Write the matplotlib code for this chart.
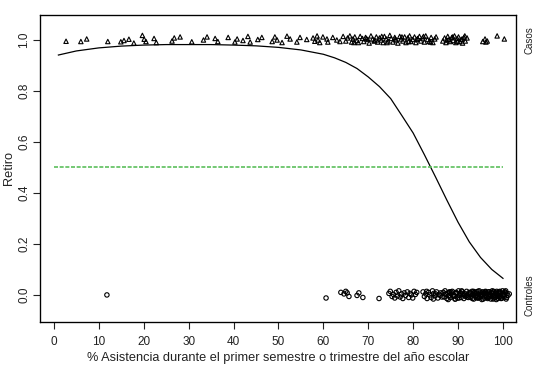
import matplotlib
matplotlib.use("Agg")
import matplotlib.pyplot as plt

# ---------------- data ----------------
curve_x = [1, 5, 10, 15, 20, 25, 30, 35, 40, 45, 50, 55, 60, 62.5, 65, 67.5, 70, 72.5,
           75, 77.5, 80, 82.5, 85, 87.5, 90, 92.5, 95, 97.5, 100]
curve_y = [0.941, 0.957, 0.969, 0.976, 0.980, 0.982, 0.982, 0.982, 0.980, 0.977, 0.971,
           0.961, 0.944, 0.930, 0.912, 0.888, 0.855, 0.817, 0.770, 0.703, 0.635, 0.550,
           0.462, 0.372, 0.285, 0.208, 0.147, 0.100, 0.065]

cases_x = [2.7, 6.0, 7.3, 12.0, 14.9, 15.6, 16.7, 17.8, 19.7, 20.1, 20.5, 22.3, 22.8, 26.3, 26.8,
           28.1, 30.7, 33.3, 34.1, 35.9, 36.5, 38.8, 40.3, 40.8, 42.1, 43.2, 43.7, 45.4, 46.3,
           48.6, 49.2, 49.7, 50.8, 51.9, 52.6, 54.1, 54.8, 56.3, 57.7, 58.1, 58.6, 58.8, 59.2,
           59.9, 60.8, 61.0, 62.1, 63.0, 63.7, 64.4,
           65.0, 65.4, 65.9, 66.3, 66.6, 67.0, 67.5, 67.8, 68.2, 68.7, 69.0, 69.4, 69.9, 70.2,
           70.6, 71.0, 71.3, 71.8, 72.1, 72.5, 72.9, 73.3, 73.6, 74.0, 74.4, 74.8, 75.1, 75.5,
           75.9, 76.2, 76.6, 77.0, 77.3, 77.7, 78.1, 78.4, 78.8, 79.2, 79.5, 79.9, 80.3, 80.6,
           81.0, 81.4, 81.7, 82.1, 82.5, 82.8, 83.2, 83.6, 84.0, 84.4, 84.8, 85.1, 86.6, 87.0,
           87.3, 87.7, 88.0, 88.3, 88.6, 88.9, 89.2, 89.5, 89.8, 90.1, 90.4, 90.7, 91.0, 91.3,
           91.6, 92.0, 95.5, 96.0, 96.5, 98.7, 100.3,
           66.8, 69.6, 71.5, 73.0, 74.2, 76.0, 77.5, 79.0, 80.8, 82.3, 83.9, 87.5, 88.8, 89.9,
           90.9, 91.5, 96.2]
cases_y = [0.995, 0.994, 1.004, 0.994, 0.993, 0.998, 1.003, 0.988, 1.018, 1.003, 0.994, 1.006,
           0.990, 0.996, 1.008, 1.012, 0.993, 1.000, 1.012, 1.006, 0.994, 1.010, 0.992, 1.004,
           0.998, 1.014, 0.992, 1.002, 1.010, 0.994, 1.012, 1.000, 0.990, 1.015, 1.004, 0.992,
           1.010, 1.002, 1.008, 0.995, 1.016, 1.000, 0.990, 1.012, 1.004, 0.992, 1.010, 1.000,
           0.994, 1.014,
           0.996, 1.008, 1.016, 0.992, 1.004, 1.012, 0.998, 0.990, 1.014, 1.006, 0.994, 1.010,
           1.002, 0.988, 1.016, 1.004, 0.996, 1.012, 0.992, 1.008, 1.000, 0.990, 1.014, 1.004,
           0.996, 1.018, 1.006, 0.992, 1.010, 1.000, 0.988, 1.014, 1.004, 0.996, 1.012, 0.990,
           1.008, 1.016, 0.994, 1.002, 1.012, 0.990, 1.006, 1.014, 0.996, 1.008, 0.992, 1.016,
           1.002, 0.994, 1.010, 0.990, 1.004, 1.012, 0.996, 1.008, 0.990, 1.014, 1.002, 0.994,
           1.010, 0.998, 1.016, 0.990, 1.006, 1.012, 0.994, 1.002, 0.988, 1.010, 0.996, 1.008,
           0.994, 1.004, 0.996, 1.016, 1.004,
           0.990, 1.006, 0.998, 1.014, 0.990, 1.004, 1.012, 0.994, 1.002, 1.014, 0.992, 1.000,
           1.012, 0.994, 1.004, 1.016, 0.992]

controls_x = [11.8, 60.6, 63.9, 64.6, 65.0, 65.3, 65.7, 67.5, 67.9, 68.8, 72.4,
              74.6, 74.9, 75.3, 75.6, 75.9, 76.2, 76.5, 76.8, 77.1, 77.4, 77.7, 78.0, 78.3, 78.7,
              79.0, 79.3, 79.6, 79.9, 80.2, 80.5, 80.8,
              82.2, 82.5, 82.8, 83.1, 83.4, 83.7, 84.0, 84.3, 84.6, 84.9, 85.2, 85.5, 85.8, 86.1,
              86.4, 83.0, 84.5, 85.0, 86.0,
              86.7, 86.9, 87.1, 87.3, 87.5, 87.7, 87.9, 88.1, 88.3, 88.5, 88.7, 88.9, 89.1, 89.3,
              89.5, 89.7, 89.9, 90.1, 90.3, 90.5, 90.7, 90.9, 91.1, 91.3, 91.5, 91.7, 91.9, 92.1,
              92.3, 92.5, 87.2, 87.8, 88.4, 89.0, 89.6, 90.2, 90.8, 91.4, 92.0, 88.0, 89.4, 90.6,
              91.8,
              92.7, 92.9, 93.1, 93.3, 93.5, 93.7, 93.9, 94.1, 94.3, 94.5, 94.7, 94.9, 95.1, 95.3,
              95.5, 95.7, 95.9, 96.1, 96.3, 96.5, 96.7, 96.9, 97.1, 97.3, 97.5, 97.7, 97.9, 98.1,
              98.3, 98.5, 98.7, 98.9, 99.1, 99.3, 99.5, 99.7, 99.9, 100.1, 100.3, 100.5, 100.7,
              100.9, 101.1, 101.4,
              92.8, 93.2, 93.6, 94.0, 94.4, 94.8, 95.2, 95.6, 96.0, 96.4, 96.8, 97.2, 97.6, 98.0,
              98.4, 98.8, 99.2, 99.6, 100.0, 100.4, 100.8,
              93.0, 93.8, 94.6, 95.4, 96.2, 97.0, 97.8, 98.6, 99.4, 100.2,
              93.4, 94.2, 95.0, 95.8, 96.6, 97.4, 98.2, 99.0, 99.8, 100.6,
              94.4, 95.3, 96.1, 96.9, 97.7, 98.5, 99.3, 100.1]
controls_y = [0.000, -0.012, 0.010, 0.004, 0.014, 0.008, -0.006, -0.002, 0.008, -0.010, -0.014,
              0.006, 0.014, -0.006, 0.002, -0.012, 0.010, -0.004, 0.016, -0.008, 0.004, -0.014,
              0.008, -0.002, 0.012, -0.010, 0.006, 0.000, -0.012, 0.014, 0.002, 0.010,
              0.012, -0.006, 0.004, -0.014, 0.010, 0.000, -0.010, 0.016, 0.006, -0.004, 0.012,
              -0.012, 0.002, 0.008, -0.008, 0.014, -0.016, 0.004, -0.002,
              0.010, -0.008, 0.016, 0.002, -0.014, 0.008, -0.004, 0.012, -0.010, 0.004, 0.014,
              -0.006, 0.000, -0.016, 0.010, 0.006, -0.012, 0.016, -0.002, 0.008, -0.010, 0.012,
              0.002, -0.014, 0.006, -0.006, 0.014, 0.000, -0.010, 0.010, 0.004, -0.018, 0.012,
              -0.004, 0.008, -0.012, 0.016, 0.000, -0.008, 0.010, -0.016, 0.006, -0.002,
              0.008, -0.010, 0.014, 0.002, -0.016, 0.010, -0.004, 0.012, -0.012, 0.004, 0.016,
              -0.006, 0.000, -0.018, 0.010, 0.006, -0.012, 0.014, -0.002, 0.008, -0.010, 0.012,
              0.002, -0.016, 0.006, -0.006, 0.014, 0.000, -0.010, 0.010, 0.004, -0.014, 0.012,
              -0.004, 0.008, -0.012, 0.016, 0.000, -0.008, 0.010, -0.016, 0.006, -0.002, 0.004,
              0.004, -0.014, 0.010, -0.004, 0.014, -0.010, 0.002, -0.016, 0.008, -0.008, 0.012,
              -0.002, 0.016, -0.012, 0.006, -0.006, 0.010, -0.014, 0.000, 0.012, -0.010,
              -0.004, 0.006, -0.012, 0.012, -0.008, 0.002, -0.016, 0.014, -0.006, 0.004,
              0.014, -0.010, 0.000, 0.008, -0.014, 0.010, -0.002, 0.004, -0.012, 0.016,
              -0.008, 0.002, 0.012, -0.006, 0.008, -0.018, 0.014, -0.004]

x_ticks = [0, 10, 20, 30, 40, 50, 60, 70, 80, 90, 100]
y_ticks = [0.0, 0.2, 0.4, 0.6, 0.8, 1.0]
cutoff = 0.5

# ---------------- plot ----------------
plt.rcParams['font.family'] = ['Liberation Sans', 'DejaVu Sans']
fig = plt.figure(figsize=(5.34, 3.67), dpi=100)
ax = fig.add_axes([40/534, 1-321.7/367, (516-40)/534, (321.7-15)/367])

ax.plot(curve_x, curve_y, color='black', lw=0.9)
ax.plot([0, 100], [cutoff, cutoff], color='#5cbf5c', lw=1.2, ls=(0, (2.4, 1.0)))
ax.scatter(cases_x, cases_y, marker='^', s=10, facecolors='none', edgecolors='black', linewidths=0.8)
ax.scatter(controls_x, controls_y, marker='o', s=10, facecolors='none', edgecolors='black', linewidths=0.8)

ax.set_xlim(-3.1, 102.9)
ax.set_ylim(-0.105, 1.098)
ax.set_xticks(x_ticks)
ax.set_xticklabels([str(t) for t in x_ticks])
ax.set_yticks(y_ticks)
ax.set_yticklabels([f"{t:.1f}" for t in y_ticks], rotation=90, va='center')
ax.tick_params(direction='out', length=5, width=0.8, labelsize=8.5, colors='#222222')
ax.tick_params(axis='x', pad=5)
ax.tick_params(axis='y', pad=2)
for s in ax.spines.values():
    s.set_linewidth(0.9)
ax.set_xlabel('% Asistencia durante el primer semestre o trimestre del año escolar',
              fontsize=9.2, color='#222222', labelpad=3)
ax.set_ylabel('Retiro', fontsize=9.2, color='#222222', labelpad=2)

ax2 = ax.twinx()
ax2.set_ylim(ax.get_ylim())
ax2.set_yticks([0, 1])
ax2.set_yticklabels(['Controles', 'Casos'], rotation=90, va='center', fontsize=7, color='#222222')
ax2.tick_params(length=0, pad=6)

fig.savefig('out.png', dpi=100)
